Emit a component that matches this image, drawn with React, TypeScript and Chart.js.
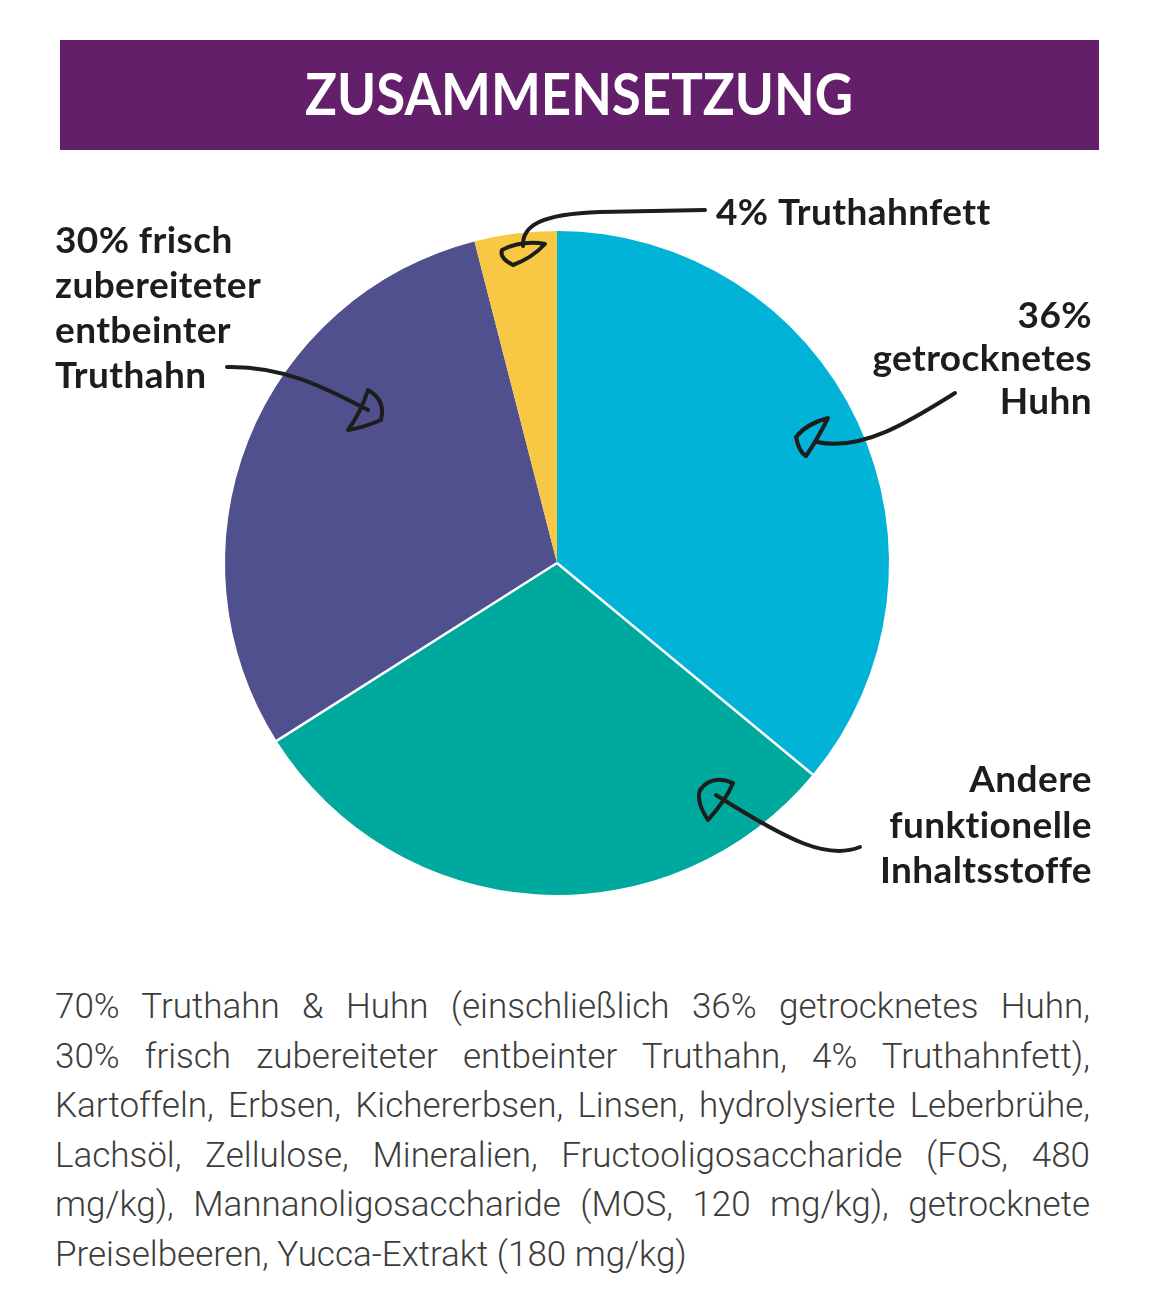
import React, { useEffect, useRef } from "react";
import { Chart, registerables } from "chart.js";

Chart.register(...registerables);

const categories = [
  "getrocknetes Huhn",
  "Andere funktionelle Inhaltsstoffe",
  "frisch zubereiteter entbeinter Truthahn",
  "Truthahnfett",
];
const values = [36, 30, 30, 4];
const colors = ["#00B3D7", "#00A99D", "#51508F", "#F8C743"];

const labelLines = [
  ["36%", "getrocknetes", "Huhn"],
  ["Andere", "funktionelle", "Inhaltsstoffe"],
  ["30% frisch", "zubereiteter", "entbeinter", "Truthahn"],
  ["4% Truthahnfett"],
];

const titleText = "ZUSAMMENSETZUNG";

const bodyLines = [
  "70% Truthahn & Huhn (einschließlich 36% getrocknetes Huhn,",
  "30% frisch zubereiteter entbeinter Truthahn, 4% Truthahnfett),",
  "Kartoffeln, Erbsen, Kichererbsen, Linsen, hydrolysierte Leberbrühe,",
  "Lachsöl, Zellulose, Mineralien, Fructooligosaccharide (FOS, 480",
  "mg/kg), Mannanoligosaccharide (MOS, 120 mg/kg), getrocknete",
  "Preiselbeeren, Yucca-Extrakt (180 mg/kg)",
];

// label placement (offset from pie centre), alignment
const labelPlacement = [
  { dx: 535, dy: -235, align: "right", step: 43 },
  { dx: 535, dy: 229, align: "right", step: 45.5 },
  { dx: -502, dy: -310, align: "left", step: 45 },
  { dx: 159, dy: -338, align: "left", step: 45 },
];

// hand-drawn arrows (reference frame with pie centre at 557,563)
const arrowPaths = [
  {
    line: "M 955 393 C 912 420 862 452 817 442",
    head: "M 828 418 Q 806 424 796 437 Q 799 452 806 456 Q 817 440 828 418 Z",
  },
  {
    line: "M 860 847 C 828 860 790 842 716 795",
    head: "M 700 790 Q 712 774 733 783 Q 726 800 708 820 Q 696 802 700 790 Z",
  },
  {
    line: "M 227 367 C 282 366 322 386 368 410",
    head: "M 368 390 Q 386 400 381 420 Q 362 428 348 430 Q 361 412 368 390 Z",
  },
  {
    line: "M 705 210 L 600 212 C 540 214 522 226 523 246",
    head: "M 502 250 Q 522 240 545 244 Q 532 258 513 265 Q 499 258 502 250 Z",
  },
];

const overlayPlugin = {
  id: "overlay",
  afterDatasetsDraw(chart: any) {
    const ctx = chart.ctx as CanvasRenderingContext2D;
    const meta = chart.getDatasetMeta(0);
    const first = meta.data[0] as any;
    const cx = first.x;
    const cy = first.y;

    // white separators around the "Andere" slice
    const teal = meta.data[1] as any;
    ctx.save();
    ctx.strokeStyle = "#ffffff";
    ctx.lineWidth = 2.5;
    [teal.startAngle, teal.endAngle].forEach((a: number) => {
      ctx.beginPath();
      ctx.moveTo(cx, cy);
      ctx.lineTo(cx + Math.cos(a) * (teal.outerRadius + 1), cy + Math.sin(a) * (teal.outerRadius + 1));
      ctx.stroke();
    });
    ctx.restore();

    // arrows
    ctx.save();
    ctx.translate(cx - 557, cy - 563);
    ctx.strokeStyle = "#1d1d1b";
    ctx.lineWidth = 4;
    ctx.lineCap = "round";
    ctx.lineJoin = "round";
    arrowPaths.forEach((p) => {
      ctx.stroke(new Path2D(p.line));
      ctx.stroke(new Path2D(p.head));
    });
    ctx.restore();

    // labels
    ctx.save();
    ctx.fillStyle = "#1d1d1b";
    ctx.font = "700 37px Lato";
    (ctx as any).letterSpacing = "0.4px";
    ctx.textBaseline = "alphabetic";
    labelLines.forEach((lines, i) => {
      const pl = labelPlacement[i];
      ctx.textAlign = pl.align as CanvasTextAlign;
      lines.forEach((t, j) => {
        ctx.fillText(t, cx + pl.dx, cy + pl.dy + j * pl.step);
      });
    });
    ctx.restore();
  },
};

export default function App() {
  const canvasRef = useRef<HTMLCanvasElement | null>(null);

  useEffect(() => {
    document.body.style.margin = "0";
    const canvas = canvasRef.current;
    if (!canvas) return;
    const chart = new Chart(canvas, {
      type: "pie",
      data: {
        labels: categories,
        datasets: [
          {
            data: values,
            backgroundColor: colors,
            borderWidth: 0,
          },
        ],
      },
      options: {
        responsive: false,
        animation: false,
        events: [],
        layout: { padding: { top: 231, bottom: 65, left: 225, right: 266 } },
        plugins: {
          legend: { display: false },
          tooltip: { enabled: false },
          title: { display: false },
        },
      },
      plugins: [overlayPlugin],
    });
    return () => chart.destroy();
  }, []);

  return (
    <div style={{ position: "relative", width: 1155, height: 1306, background: "#ffffff", overflow: "hidden" }}>
      <canvas ref={canvasRef} width={1155} height={960} style={{ position: "absolute", left: 0, top: 0, display: "block" }} />
      <div
        style={{
          position: "absolute",
          left: 60,
          top: 40,
          width: 1039,
          height: 110,
          background: "#631F69",
          color: "#ffffff",
          fontFamily: "Lato, sans-serif",
          fontWeight: 700,
          fontSize: 58,
          lineHeight: "106px",
          textAlign: "center",
        }}
      >
        <span style={{ display: "inline-block", transform: "scaleX(0.91)", transformOrigin: "50% 50%" }}>
          {titleText}
        </span>
      </div>
      <div
        style={{
          position: "absolute",
          left: 55,
          top: 982,
          width: 1035,
          fontFamily: "Roboto, sans-serif",
          fontWeight: 300,
          fontSize: 35,
          lineHeight: "49.6px",
          color: "#3c3c3b",
        }}
      >
        {bodyLines.map((l, i) => (
          <div
            key={i}
            style={{
              whiteSpace: "nowrap",
              textAlign: i === bodyLines.length - 1 ? "left" : "justify",
              textAlignLast: i === bodyLines.length - 1 ? "left" : "justify",
            }}
          >
            {l}
          </div>
        ))}
      </div>
    </div>
  );
}
